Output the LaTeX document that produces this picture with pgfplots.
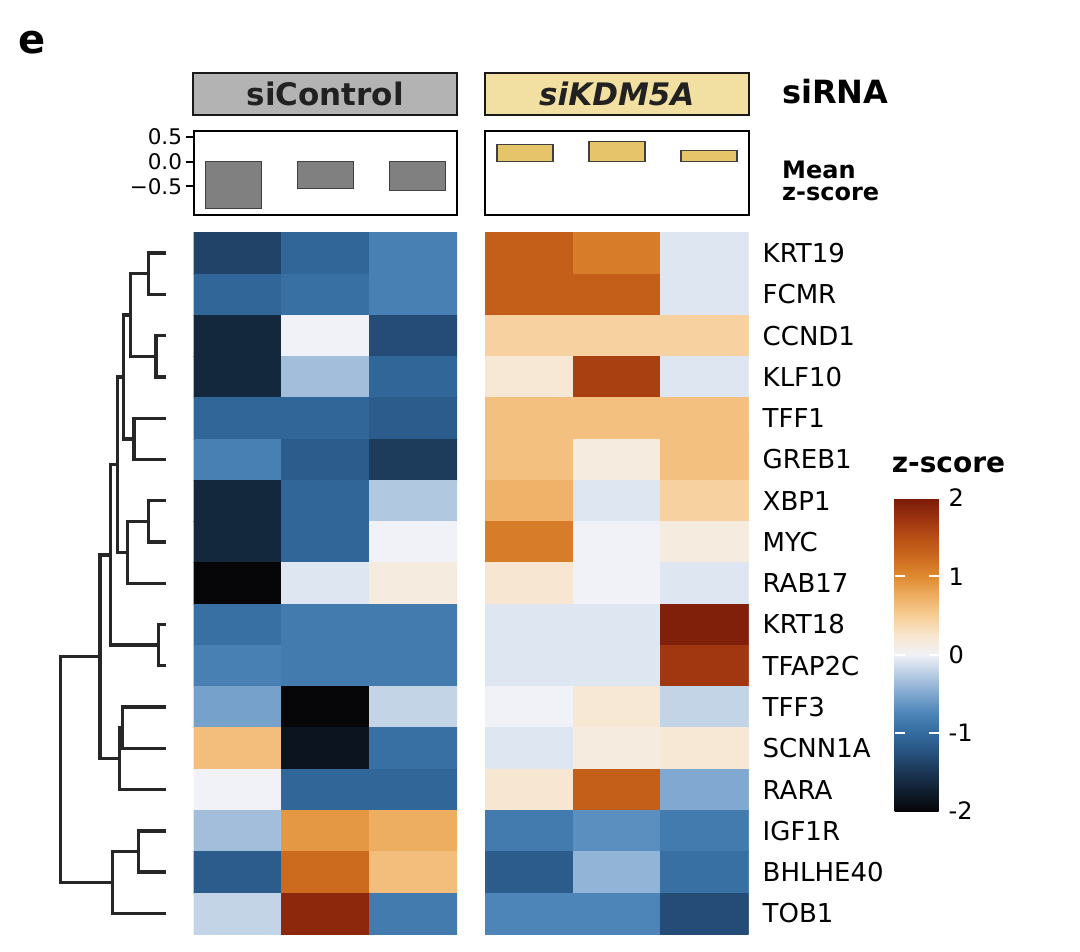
\documentclass[border=0pt]{standalone}
\usepackage{pgfplots}
\usepackage{pgfplotstable}
\pgfplotsset{compat=1.18}
\usepackage{fontspec}
\setmainfont{DejaVu Sans}
\newcommand{\fs}[1]{\fontsize{#1}{#1}\selectfont}
\definecolor{boxgray}{HTML}{B3B3B3}
\definecolor{boxyel}{HTML}{F2E0A2}
\definecolor{bargray}{HTML}{808080}
\definecolor{baryel}{HTML}{E6C46A}
\definecolor{edgec}{HTML}{404040}
\definecolor{dend}{HTML}{262626}
\pgfplotsset{colormap={zs}{
rgb255=(6,6,8) rgb255=(16,30,46) rgb255=(27,54,84) rgb255=(39,82,126)
rgb255=(51,107,159) rgb255=(77,133,184) rgb255=(128,168,208) rgb255=(184,204,227)
rgb255=(240,242,247) rgb255=(248,230,205) rgb255=(247,205,149) rgb255=(238,174,98)
rgb255=(222,138,48) rgb255=(204,106,30) rgb255=(184,78,20) rgb255=(154,50,16)
rgb255=(122,26,8)}}
\pgfplotstableread{
x y z
0 0 -1.38
1 0 -1.05
2 0 -0.8
0 1 -1.05
1 1 -0.95
2 1 -0.8
0 2 -1.65
1 2 0.0
2 2 -1.3
0 3 -1.65
1 3 -0.35
2 3 -1.05
0 4 -1.05
1 4 -1.05
2 4 -1.15
0 5 -0.8
1 5 -1.15
2 5 -1.45
0 6 -1.65
1 6 -1.05
2 6 -0.28
0 7 -1.65
1 7 -1.05
2 7 0.0
0 8 -2.0
1 8 -0.08
2 8 0.15
0 9 -0.95
1 9 -0.85
2 9 -0.85
0 10 -0.8
1 10 -0.85
2 10 -0.85
0 11 -0.55
1 11 -2.0
2 11 -0.2
0 12 0.62
1 12 -1.85
2 12 -0.95
0 13 0.0
1 13 -1.05
2 13 -1.05
0 14 -0.35
1 14 0.9
2 14 0.75
0 15 -1.15
1 15 1.25
2 15 0.62
0 16 -0.2
1 16 1.85
2 16 -0.85
}\ctrl
\pgfplotstableread{
x y z
0 0 1.35
1 0 1.1
2 0 -0.08
0 1 1.35
1 1 1.35
2 1 -0.08
0 2 0.45
1 2 0.45
2 2 0.45
0 3 0.2
1 3 1.62
2 3 -0.08
0 4 0.6
1 4 0.6
2 4 0.6
0 5 0.6
1 5 0.15
2 5 0.6
0 6 0.72
1 6 -0.08
2 6 0.45
0 7 1.1
1 7 0.0
2 7 0.15
0 8 0.22
1 8 0.0
2 8 -0.08
0 9 -0.08
1 9 -0.08
2 9 1.95
0 10 -0.08
1 10 -0.08
2 10 1.7
0 11 0.0
1 11 0.2
2 11 -0.2
0 12 -0.08
1 12 0.15
2 12 0.2
0 13 0.22
1 13 1.35
2 13 -0.5
0 14 -0.85
1 14 -0.68
2 14 -0.85
0 15 -1.15
1 15 -0.42
2 15 -0.95
0 16 -0.75
1 16 -0.75
2 16 -1.3
}\kd
\pgfplotsset{
  hm/.style={anchor=south west, scale only axis, width=263.5pt, height=701.5pt,
    xmin=-0.5, xmax=2.5, ymin=-0.5, ymax=16.5, y dir=reverse, enlargelimits=false,
    colormap name=zs, point meta min=-2, point meta max=2,
    axis line style={draw=none}, xtick=\empty, major tick length=0pt},
  mb/.style={anchor=south west, scale only axis, width=263.5pt, height=84.5pt,
    xmin=-0.435, xmax=2.43, ymin=-1.087, ymax=0.62, xtick=\empty,
    axis line style={line width=2pt, draw=black}},
  dl/.style={draw=dend, line width=3.4pt, line join=miter, no markers}
}
\begin{document}
\begin{tikzpicture}
\path[use as bounding box] (0pt,0pt) rectangle (1080pt,-952pt);
% panel letter
\node[anchor=base west, font=\bfseries\fs{40}, inner sep=0pt] at (18pt,-54pt) {e};
% annotation boxes
\node[draw=black!90, line width=2pt, fill=boxgray, minimum width=263.5pt, minimum height=42pt, inner sep=0pt] at (325.2pt,-94.3pt) {};
\node[anchor=base, font=\bfseries\fs{31}, text=black!87, inner sep=0pt] at (325.2pt,-106pt) {siControl};
\node[draw=black!90, line width=2pt, fill=boxyel, minimum width=263.5pt, minimum height=42pt, inner sep=0pt] at (616.8pt,-94.3pt) {};
\node[anchor=base, font=\bfseries\itshape\fs{31}, text=black!87, inner sep=0pt] at (616.8pt,-106pt) {siKDM5A};
\node[anchor=base west, font=\bfseries\fs{32}, inner sep=0pt] at (782pt,-103.3pt) {siRNA};
\node[anchor=base west, font=\bfseries\fs{24}, inner sep=0pt] at (782pt,-179pt) {Mean};
\node[anchor=base west, font=\bfseries\fs{24}, inner sep=0pt] at (782pt,-200.7pt) {z-score};
\node[anchor=base, font=\bfseries\fs{28}, inner sep=0pt] at (948.5pt,-472pt) {z-score};
% mean bars
\begin{axis}[mb, at={(193.5pt,-215.5pt)},
  ytick={-0.5,0,0.5}, yticklabels={−0.5,0.0,0.5}, ytick pos=left, tick align=outside,
  major tick length=8pt, tick style={line width=2pt, black},
  yticklabel style={font=\fs{21.5}}]
\addplot[ybar, bar width=0.607, fill=bargray, draw=edgec, line width=1.5pt] coordinates {(0,-0.95) (1,-0.54) (2,-0.58)};
\end{axis}
\begin{axis}[mb, at={(485pt,-215.5pt)}, ytick=\empty]
\addplot[ybar, bar width=0.607, fill=baryel, draw=edgec, line width=1.5pt] coordinates {(0,0.345) (1,0.41) (2,0.23)};
\end{axis}
% heatmaps
\begin{axis}[hm, at={(193.5pt,-934pt)}, ytick=\empty]
\addplot[matrix plot*, mesh/cols=3, point meta=explicit] table[x=x, y=y, meta=z] {\ctrl};
\end{axis}
\begin{axis}[hm, at={(485pt,-934pt)},
  ytick={0,...,16}, yticklabel pos=right,
  yticklabels={KRT19,FCMR,CCND1,KLF10,TFF1,GREB1,XBP1,MYC,RAB17,KRT18,TFAP2C,TFF3,SCNN1A,RARA,IGF1R,BHLHE40,TOB1},
  yticklabel style={font=\fs{26}, inner sep=0pt, xshift=14pt},
  colorbar, colorbar/width=44pt,
  colorbar style={at={(parent axis.south east)}, anchor=south west, xshift=137.5pt, yshift=123pt,
    scale only axis, width=44pt, height=313pt, y dir=normal,
    axis line style={draw=none},
    ytick={-1,0,1}, yticklabels={-1,0,1},
    extra y ticks={-2,2}, extra y tick labels={-2,2}, extra y tick style={major tick length=0pt},
    ytick pos=both, yticklabel pos=right, tick align=inside, ytick align=inside, major tick length=10pt,
    ytick style={draw=white, line width=2pt},
    yticklabel style={font=\fs{24}, inner sep=0pt, xshift=10pt}}]
\addplot[matrix plot*, mesh/cols=3, point meta=explicit] table[x=x, y=y, meta=z] {\kd};
\end{axis}
% dendrogram
\begin{axis}[anchor=south west, at={(0pt,-934pt)}, scale only axis, width=194pt, height=701.5pt,
  xmin=0, xmax=194, ymin=-0.5, ymax=16.5, y dir=reverse, hide axis, clip=false]
\addplot[dl] coordinates {(166,0) (148.3,0) (148.3,1) (166,1)};
\addplot[dl] coordinates {(166,2) (156,2) (156,3) (166,3)};
\addplot[dl] coordinates {(148.3,0.5) (130.7,0.5) (130.7,2.5) (156,2.5)};
\addplot[dl] coordinates {(166,4) (134,4) (134,5) (166,5)};
\addplot[dl] coordinates {(130.7,1.5) (123.3,1.5) (123.3,4.5) (134,4.5)};
\addplot[dl] coordinates {(166,6) (148.3,6) (148.3,7) (166,7)};
\addplot[dl] coordinates {(148.3,6.5) (127.3,6.5) (127.3,8) (166,8)};
\addplot[dl] coordinates {(123.3,3) (117.3,3) (117.3,7.25) (127.3,7.25)};
\addplot[dl] coordinates {(166,9) (158.3,9) (158.3,10) (166,10)};
\addplot[dl] coordinates {(117.3,5.125) (110.7,5.125) (110.7,9.5) (158.3,9.5)};
\addplot[dl] coordinates {(166,11) (122.7,11) (122.7,12) (166,12)};
\addplot[dl] coordinates {(122.7,11.5) (119.3,11.5) (119.3,13) (166,13)};
\addplot[dl] coordinates {(110.7,7.3125) (100,7.3125) (100,12.25) (119.3,12.25)};
\addplot[dl] coordinates {(166,14) (138.3,14) (138.3,15) (166,15)};
\addplot[dl] coordinates {(138.3,14.5) (112.7,14.5) (112.7,16) (166,16)};
\addplot[dl] coordinates {(100,9.78) (60.7,9.78) (60.7,15.25) (112.7,15.25)};
\end{axis}
\end{tikzpicture}
\end{document}
